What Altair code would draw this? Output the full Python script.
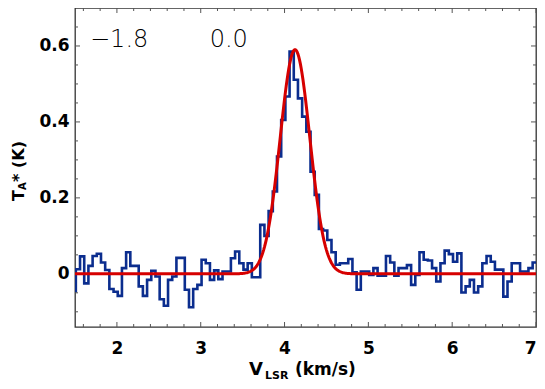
import altair as alt
import numpy as np
import pandas as pd

# ---- data ----
v_start = 1.485          # centre of the first channel (km/s)
dv = 0.05                # channel width (km/s)
ta = [
    -0.046, 0.012, 0.046, -0.025, 0.021, 0.047, 0.053, 0.030, 0.010, -0.040,
    -0.047, -0.058, 0.015, 0.057, 0.021, 0.021, -0.033, -0.058, -0.016, 0.008,
    -0.007, -0.067, -0.084, -0.016, -0.007, 0.042, 0.042, -0.042, -0.088, -0.040,
    -0.029, 0.037, 0.028, -0.016, 0.009, -0.014, 0.006, 0.006, 0.041, 0.059,
    0.028, 0.011, 0.028, -0.009, -0.009, 0.129, 0.100, 0.165, 0.217, 0.309,
    0.405, 0.467, 0.585, 0.511, 0.462, 0.414, 0.374, 0.269, 0.208, 0.118,
    0.114, 0.089, 0.057, 0.024, 0.028, 0.028, 0.039, 0.004, -0.042, 0.006,
    0.006, -0.003, 0.015, -0.005, -0.005, 0.047, 0.030, -0.005, 0.015, 0.015,
    0.023, -0.029, -0.003, 0.057, 0.037, 0.035, 0.015, -0.020, 0.028, 0.061,
    0.052, 0.032, 0.054, -0.049, -0.033, -0.016, -0.049, -0.033, 0.028, 0.047,
    0.032, 0.011, 0.011, -0.060, -0.020, 0.028, 0.028, 0.006, 0.006, 0.015,
    0.030, 0.030,
]
velocity = [round(v_start + dv * i, 4) for i in range(len(ta))]

# Gaussian fit parameters (red curve)
fit_amp = 0.59
fit_center = 4.125
fit_sigma = 0.177

ann_labels = ["\u22121.8", "0.0"]
ann_x = [1.679, 3.107]
ann_y = [0.597, 0.597]

x_major = [2, 3, 4, 5, 6, 7]
x_minor = [1.6, 1.8, 2.2, 2.4, 2.6, 2.8, 3.2, 3.4, 3.6, 3.8, 4.2, 4.4, 4.6, 4.8,
           5.2, 5.4, 5.6, 5.8, 6.2, 6.4, 6.6, 6.8]
y_major = [0.0, 0.2, 0.4, 0.6]
y_minor = [-0.10, -0.05, 0.05, 0.10, 0.15, 0.25, 0.30, 0.35, 0.45, 0.50, 0.55, 0.65]

# ---- tables ----
spec = pd.DataFrame({"v": velocity, "t": ta})
fit_v = np.linspace(1.5, 7.0, 551)
fit = pd.DataFrame({"v": fit_v,
                    "t": fit_amp * np.exp(-0.5 * ((fit_v - fit_center) / fit_sigma) ** 2)})
ann = pd.DataFrame({"v": ann_x, "t": ann_y, "label": ann_labels})
xmaj = pd.DataFrame({"v": x_major})
xmin = pd.DataFrame({"v": x_minor})
ymaj = pd.DataFrame({"t": y_major})
ymin = pd.DataFrame({"t": y_minor})
one = pd.DataFrame({"a": [0]})

W, H = 461, 319
BLUE = "#0b2d8e"
RED = "#d60000"
TICK = "#555555"
FONT = "DejaVu Sans"

xs = alt.Scale(domain=[1.5, 7.0], nice=False, zero=False)
ys = alt.Scale(domain=[-0.14, 0.70], nice=False, zero=False)

spectrum = alt.Chart(spec).mark_line(
    interpolate="step", clip=True, color=BLUE, strokeWidth=2.6
).encode(
    x=alt.X("v:Q", scale=xs, axis=alt.Axis(
        values=x_major, ticks=False, domain=False, grid=False, title=None,
        labelFontSize=17, labelFontWeight="bold", labelFont=FONT,
        labelColor="black", labelPadding=13, labelFlush=True,
        labelExpr="format(datum.value, 'd')")),
    y=alt.Y("t:Q", scale=ys, axis=alt.Axis(
        values=y_major, ticks=False, domain=False, grid=False, title=None,
        labelFontSize=17, labelFontWeight="bold", labelFont=FONT,
        labelColor="black", labelPadding=6, labelFlush=False,
        labelExpr="datum.value == 0 ? '0' : format(datum.value, '.1f')")),
)

fitline = alt.Chart(fit).mark_line(clip=True, color=RED, strokeWidth=3).encode(
    x=alt.X("v:Q", scale=xs),
    y=alt.Y("t:Q", scale=ys),
)

labels = alt.Chart(ann).mark_text(
    align="left", baseline="alphabetic", fontSize=24, font="DejaVu Sans",
    fontWeight=200, color="black"
).encode(
    x=alt.X("v:Q", scale=xs),
    y=alt.Y("t:Q", scale=ys),
    text="label:N",
)

def xticks(df, length):
    bot = alt.Chart(df).mark_rule(color=TICK, strokeWidth=1).encode(
        x=alt.X("v:Q", scale=xs), y=alt.value(H), y2=alt.value(H - length))
    top = alt.Chart(df).mark_rule(color=TICK, strokeWidth=1).encode(
        x=alt.X("v:Q", scale=xs), y=alt.value(0), y2=alt.value(length))
    return [bot, top]

def yticks(df, length):
    left = alt.Chart(df).mark_rule(color=TICK, strokeWidth=1).encode(
        y=alt.Y("t:Q", scale=ys), x=alt.value(0), x2=alt.value(length))
    right = alt.Chart(df).mark_rule(color=TICK, strokeWidth=1).encode(
        y=alt.Y("t:Q", scale=ys), x=alt.value(W), x2=alt.value(W - length))
    return [left, right]

def txt(s, x, y, size, angle=0, weight="bold"):
    return alt.Chart(one).mark_text(
        align="left", baseline="alphabetic", fontSize=size, font=FONT,
        fontWeight=weight, color="black", angle=angle
    ).encode(x=alt.value(x), y=alt.value(y), text=alt.value(s))

titles = [
    txt("V", 174, 367, 18),
    txt("LSR", 190, 371, 11),
    txt("(km/s)", 220, 367, 17),
    txt("T", -51, 193, 16, angle=270),
    txt("A", -49, 182, 10, angle=270),
    txt("* (K)", -51, 174, 16, angle=270),
]

layers = ([spectrum]
          + xticks(xmin, 3) + xticks(xmaj, 5) + yticks(ymin, 3) + yticks(ymaj, 5)
          + [fitline, labels] + titles)

chart = alt.layer(*layers).properties(
    width=W, height=H,
    autosize=alt.AutoSizeParams(type="none"),
    padding={"left": 67, "top": 0, "right": 1, "bottom": 54},
).configure_view(stroke="#333333", strokeWidth=1.3)

chart.save("out.html", embed_options={"renderer": "svg", "actions": False})
